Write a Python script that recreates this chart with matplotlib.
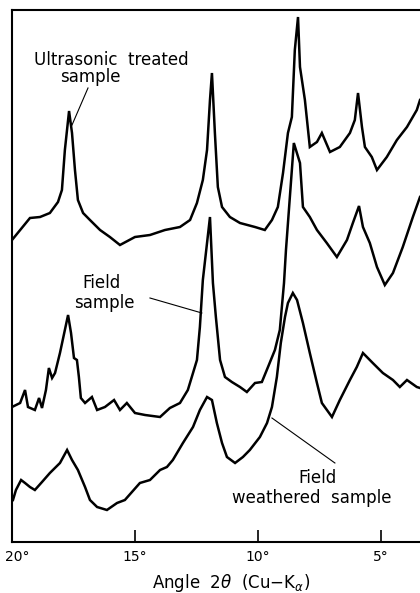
import matplotlib
matplotlib.use("Agg")
import matplotlib.pyplot as plt
import matplotlib.transforms as mtransforms

# ---- data: angle 2-theta (deg) and relative intensity (arb. units, offset traces) ----
ultra_angle = [20.00, 19.27, 18.86, 18.46, 18.13, 17.97, 17.85, 17.68, 17.56, 17.44, 17.32,
               17.11, 16.83, 16.42, 16.02, 15.61, 15.00, 14.39, 13.78, 13.17, 12.76, 12.48,
               12.24, 12.07, 11.95, 11.87, 11.75, 11.63, 11.46, 11.14, 10.73, 10.12, 9.72,
               9.43, 9.19, 8.98, 8.78, 8.62, 8.50, 8.37, 8.29, 8.09, 7.89, 7.60, 7.40, 7.07,
               6.67, 6.26, 6.06, 5.93, 5.77, 5.65, 5.37, 5.16, 4.76, 4.35, 3.94, 3.54, 3.41]
ultra_int = [302, 324, 325, 329, 340, 352, 392, 431, 409, 372, 342,
             329, 322, 312, 305, 297, 305, 307, 312, 315, 322, 339,
             362, 392, 442, 469, 409, 355, 335, 325, 319, 315, 312,
             322, 335, 369, 409, 425, 492, 525, 475, 442, 395, 400, 409, 390,
             395, 409, 422, 449, 415, 395, 385, 372, 385, 402, 415, 432, 442]

field_angle = [20.00, 19.67, 19.47, 19.35, 19.07, 18.90, 18.78, 18.62, 18.50, 18.37, 18.25,
               18.05, 17.85, 17.72, 17.60, 17.48, 17.36, 17.28, 17.20, 17.03, 16.75, 16.54,
               16.22, 15.85, 15.61, 15.33, 15.00, 14.59, 13.98, 13.58, 13.17, 12.85, 12.64,
               12.48, 12.36, 12.24, 11.95, 11.83, 11.71, 11.54, 11.34, 11.06, 10.73, 10.45,
               10.12, 9.84, 9.59, 9.31, 9.11, 8.94, 8.86, 8.54, 8.29, 8.17, 7.89, 7.60,
               7.20, 6.79, 6.38, 6.14, 5.89, 5.73, 5.45, 5.16, 4.84, 4.51, 4.11, 3.70, 3.41]
field_int = [135, 139, 152, 135, 132, 144, 134, 152, 174, 164, 169,
             189, 212, 227, 209, 184, 182, 165, 144, 139, 145, 132,
             135, 142, 132, 139, 129, 127, 125, 134, 139, 152, 169,
             182, 215, 262, 325, 259, 225, 182, 165, 160, 155, 150,
             159, 160, 175, 192, 212, 259, 292, 399, 379, 335, 325, 312,
             299, 285, 302, 319, 336, 315, 299, 275, 257, 269, 295, 325, 345]

weath_angle = [19.96, 19.84, 19.63, 19.47, 19.27, 19.07, 18.78, 18.46, 18.05, 17.76, 17.56,
               17.32, 17.03, 16.83, 16.54, 16.14, 15.73, 15.41, 14.80, 14.39, 13.98, 13.70,
               13.46, 13.05, 12.64, 12.36, 12.07, 11.87, 11.67, 11.46, 11.26, 10.93, 10.61,
               10.33, 9.92, 9.63, 9.43, 9.23, 9.07, 8.90, 8.78, 8.58, 8.41, 8.17, 7.89,
               7.60, 7.40, 6.99, 6.67, 6.26, 5.98, 5.73, 5.33, 4.92, 4.51, 4.23, 3.94, 3.54, 3.41]
weath_int = [42, 52, 62, 59, 55, 52, 60, 69, 79, 92, 82,
             72, 55, 42, 35, 32, 39, 42, 59, 62, 72, 75,
             82, 99, 115, 132, 145, 142, 119, 99, 85, 79, 85,
             92, 105, 119, 135, 165, 199, 225, 239, 249, 242, 219, 189,
             159, 139, 125, 142, 162, 175, 189, 179, 169, 162, 155, 162, 155, 154]

tick_angles = [20, 15, 10, 5]
tick_labels = ["20°", "15°", "10°", "5°"]

# ---- figure ----
W, H = 420, 593
fig = plt.figure(figsize=(W / 100, H / 100), dpi=100)
ax = fig.add_axes([12 / W, 51 / H, 408 / W, 532 / H])

lw = 1.8
for a, i in [(ultra_angle, ultra_int), (field_angle, field_int), (weath_angle, weath_int)]:
    ax.plot(a, i, color="black", lw=lw, solid_joinstyle="miter")

ax.set_xlim(20, 3.41)
ax.set_ylim(0, 532)

for s in ["left", "top", "bottom"]:
    ax.spines[s].set_linewidth(1.5)
ax.spines["right"].set_visible(False)

ax.set_yticks([])
ax.set_xticks(tick_angles)
ax.set_xticklabels(tick_labels, fontsize=10)
ax.tick_params(axis="x", direction="in", length=9, width=1.2, pad=6)

# nudge the first tick label right, as in the reference
first = ax.get_xticklabels()[0]
first.set_transform(first.get_transform() +
                    mtransforms.ScaledTranslation(5 / 100, 0, fig.dpi_scale_trans))

fig.text(231 / W, 1 - 583 / H, r"Angle  $2\theta$  (Cu$-$K$_\alpha$)",
         ha="center", va="center", fontsize=12)

fs = 12
ax.text(15.98, 482, "Ultrasonic  treated", ha="center", va="center", fontsize=fs)
ax.text(16.83, 465, "sample", ha="center", va="center", fontsize=fs)
ax.plot([16.91, 17.56], [454, 417], color="black", lw=0.8)

ax.text(16.38, 259, "Field", ha="center", va="center", fontsize=fs)
ax.text(16.26, 239, "sample", ha="center", va="center", fontsize=fs)
ax.plot([14.39, 12.28], [244, 229], color="black", lw=0.8)

ax.text(7.56, 64, "Field", ha="center", va="center", fontsize=fs)
ax.text(7.80, 44, "weathered  sample", ha="center", va="center", fontsize=fs)
ax.plot([9.43, 6.87], [124, 79], color="black", lw=0.8)

fig.savefig("out.png", dpi=100)
